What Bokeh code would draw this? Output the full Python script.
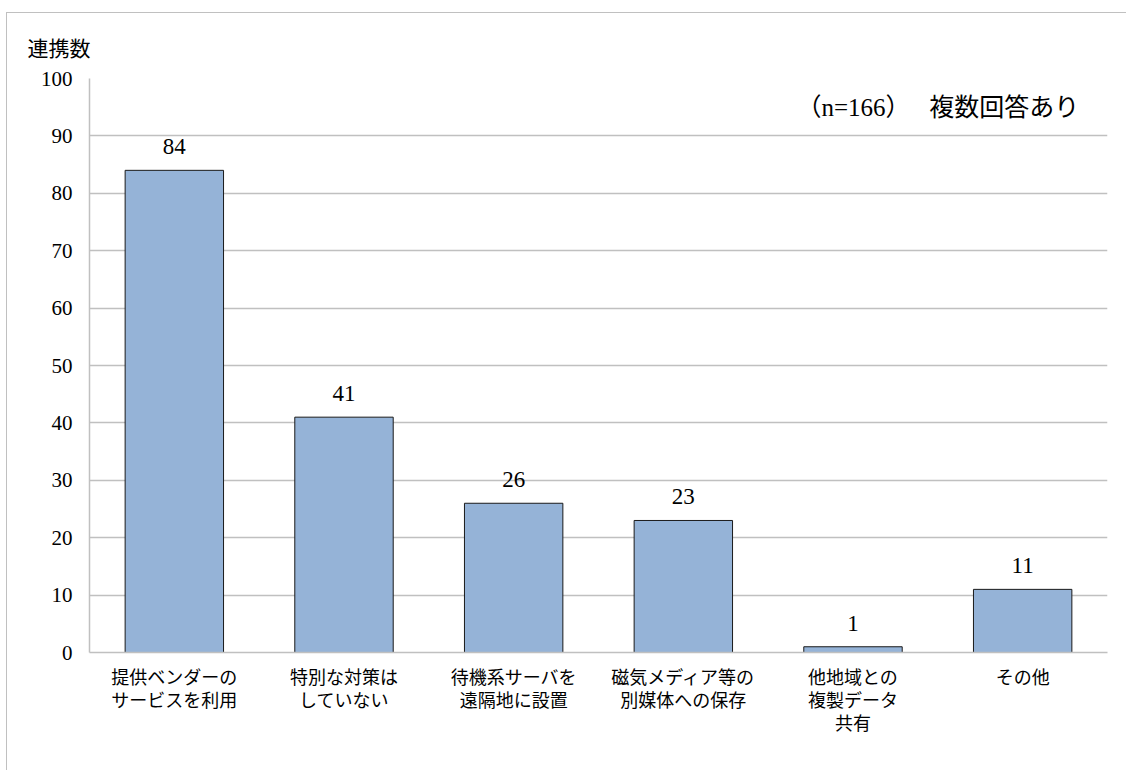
from bokeh.plotting import figure
from bokeh.models import ColumnDataSource, LabelSet, Label, FixedTicker
from bokeh.core.properties import value
from bokeh.embed import file_html
from bokeh.resources import INLINE

categories = ["提供ベンダーの\nサービスを利用", "特別な対策は\nしていない", "待機系サーバを\n遠隔地に設置",
              "磁気メディア等の\n別媒体への保存", "他地域との\n複製データ\n共有", "その他"]
values = [84, 41, 26, 23, 1, 11]
y_ticks = [0, 10, 20, 30, 40, 50, 60, 70, 80, 90, 100]
y_label = "連携数"
note = "（n=166）　  複数回答あり"

src = ColumnDataSource(dict(cat=categories, val=values, lab=[str(v) for v in values]))

JP = "Noto Sans CJK JP"
SERIF = "Liberation Serif"

p = figure(x_range=categories, y_range=(0, 100), width=1120, height=758,
           output_backend="svg", toolbar_location=None,
           min_border_left=82, min_border_top=62, min_border_right=20, min_border_bottom=119)
p.styles = {"margin-top": "12px", "margin-left": "6px",
            "border-top": "1px solid #c0c0c0", "border-left": "1px solid #c0c0c0"}

p.title.text = y_label
p.title.align = "left"
p.title.offset = -62
p.title.standoff = 33
p.title.text_font = JP
p.title.text_font_size = "21px"
p.title.text_font_style = "normal"
p.title.text_color = "#000000"

p.outline_line_color = None
p.xgrid.visible = False
p.ygrid.grid_line_color = "#c0c0c0"
p.ygrid.grid_line_width = 1.5

p.yaxis.ticker = FixedTicker(ticks=y_ticks)
for ax in (p.xaxis[0], p.yaxis[0]):
    ax.axis_line_color = "#c0c0c0"
    ax.axis_line_width = 1.5
    ax.major_tick_line_color = None
    ax.minor_tick_line_color = None
    ax.major_tick_out = 0
    ax.major_tick_in = 0
    ax.major_label_text_color = "#000000"

p.yaxis.major_label_text_font = SERIF
p.yaxis.major_label_text_font_size = "21px"
p.yaxis.major_label_standoff = 17

p.xaxis.major_label_text_font = JP
p.xaxis.major_label_text_font_size = "18px"
p.xaxis.major_label_text_line_height = 0.9
p.xaxis.major_label_standoff = 10

p.vbar(x="cat", top="val", width=0.58, source=src,
       fill_color="#95B3D7", line_color="#1a1a1a", line_width=1)

labels = LabelSet(x="cat", y="val", text="lab", source=src, y_offset=16,
                  text_align="center", text_baseline="alphabetic",
                  text_font=value(SERIF), text_font_size="23px", text_color="#000000")
p.add_layout(labels)

p.add_layout(Label(x=6, y=95, x_offset=-22, text=note, text_align="right",
                   text_baseline="middle", text_font="Liberation Serif, Noto Sans CJK JP",
                   text_font_size="25px", text_color="#000000"))

open("out.html", "w").write(file_html(p, INLINE))
